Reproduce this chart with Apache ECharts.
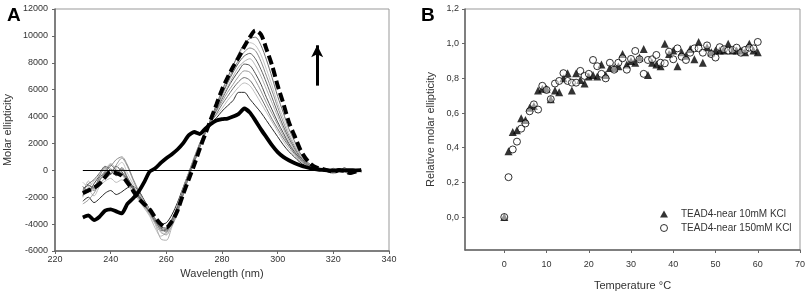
<!DOCTYPE html>
<html>
<head>
<meta charset="utf-8">
<script src="https://cdn.jsdelivr.net/npm/echarts@6/dist/echarts.min.js"></script>
<style>
  html, body { margin: 0; padding: 0; background: #fff; }
  #main { width: 809px; height: 296px; }
</style>
</head>
<body>
<div id="main"></div>
<script>
// ---- panel A : CD spectra (wavelength, nm) ----
var wavelength = [230,232,234,236,238,240,242,244,246,248,250,252,254,256,258,260,262,264,266,268,270,
  272,274,276,278,280,282,284,286,288,290,292,294,296,298,300,302,304,306,308,310,312,314,316,318,320,322,324,326,328,330];

// first scan (thick solid)
var specStart = [-3500,-3350,-3700,-3450,-3000,-2900,-3050,-3200,-2500,-2100,-1600,-900,-100,150,550,900,1200,1550,2000,2600,2850,
  2700,3100,3450,3700,3800,3850,4000,4200,4600,4300,3700,3050,2450,1850,1350,1000,750,550,380,250,150,80,30,0,-20,10,-10,20,0,10];
// last scan (thick dashed)
var specEnd = [-1700,-1500,-1300,-1000,-500,-100,-200,-400,-900,-1500,-2100,-2500,-2900,-3500,-4000,-4250,-3800,-3000,-1800,-700,400,
  1600,2700,3800,4900,6000,6900,7700,8400,9200,9900,10400,10100,9000,7800,6300,5000,3600,2600,1600,900,450,200,100,0,-100,0,-50,-200,-100,0];
// intermediate scans (thin)
var spec1 = [-2300,-2000,-2400,-2100,-1700,-1500,-1800,-1600,-1300,-1200,-1500,-2200,-2900,-3600,-4000,-3900,-3300,-2400,-1300,-200,900,
  1900,2800,3500,3900,4400,4800,5200,5800,5800,5300,4800,4300,3700,3100,2500,1900,1400,1000,600,350,180,100,50,-50,20,0,80,-40,0,20];
var spec2 = [-1800,-1500,-1900,-1200,-800,-600,-900,-700,-1100,-1600,-2200,-2800,-3400,-4300,-4900,-4600,-3700,-2600,-1400,-200,1000,
  2000,2900,3600,4100,4600,5200,5700,6200,6500,6300,5700,5000,4300,3600,2900,2200,1600,1150,700,420,220,120,40,-80,-150,50,-100,-250,-100,0];
var spec3 = [-1500,-1100,-1400,-700,-300,100,-200,200,-500,-1300,-2000,-2600,-3200,-3900,-4500,-4400,-3600,-2700,-1500,-300,900,
  2000,2900,3600,4200,4900,5500,6100,6600,6900,6700,6100,5400,4600,3800,3100,2400,1800,1250,800,450,250,150,80,0,100,-50,150,-100,-50,0];
var spec4 = [-2500,-2200,-1700,-1000,-600,-300,400,900,300,-700,-1600,-2400,-3000,-3800,-4600,-4800,-4000,-3000,-1700,-400,800,
  1900,2900,3700,4400,5100,5800,6400,7000,7400,7300,6700,5900,5000,4200,3400,2600,1900,1350,850,500,280,150,60,-30,-200,-100,50,-300,-150,0];
var spec5 = [-1200,-1600,-1000,-400,200,-300,300,-100,-700,-1400,-1900,-2500,-3100,-3700,-4200,-4300,-3700,-2800,-1600,-400,700,
  1800,2800,3700,4500,5300,6100,6800,7400,7900,7800,7200,6400,5400,4500,3600,2800,2000,1400,900,520,300,160,80,0,-50,120,0,-150,-50,0];
var spec6 = [-2000,-800,-1200,-600,0,500,100,-300,-900,-1600,-2100,-2700,-3300,-4000,-5100,-5200,-4200,-3200,-1900,-500,700,
  1800,2800,3700,4600,5400,6200,7000,7700,8100,8300,7800,7000,6000,5000,4000,3100,2200,1500,950,550,300,170,80,-100,-250,-50,100,-200,-80,0];
var spec7 = [-1400,-1000,-700,-200,300,0,-400,100,-600,-1200,-1800,-2400,-3000,-3800,-4400,-4500,-3900,-2900,-1700,-400,700,
  1800,2800,3800,4700,5600,6500,7300,8000,8500,8700,8300,7500,6500,5400,4300,3300,2400,1650,1000,600,320,180,90,20,150,-50,200,-100,-50,0];
var spec8 = [-1900,-1300,-1500,-800,-100,300,800,1000,400,-600,-1500,-2300,-2900,-3600,-4300,-4600,-4100,-3100,-1800,-500,600,
  1700,2800,3800,4800,5700,6600,7500,8200,8800,9100,8900,8100,7000,5900,4700,3600,2600,1800,1100,650,350,200,100,-50,-150,50,-100,-300,-100,0];
var spec9 = [-900,-1200,-800,-300,100,-200,200,600,-200,-1000,-1700,-2300,-3000,-3800,-4600,-4700,-4000,-3000,-1700,-500,600,
  1700,2800,3800,4900,5900,6900,7800,8600,9200,9500,9300,8600,7500,6300,5000,3900,2800,1950,1200,700,380,200,100,0,-100,0,-80,-200,-80,0];
var spec10 = [-1600,-1100,-1300,-500,-200,400,0,-200,-800,-1400,-2000,-2600,-3100,-3800,-4300,-4400,-3900,-3000,-1800,-500,600,
  1700,2800,3800,4900,5900,6900,7800,8700,9400,9800,9900,9300,8200,6900,5500,4300,3100,2200,1300,750,400,200,100,0,-50,50,-50,-200,-100,0];
var thinSpecs = [spec1, spec2, spec3, spec4, spec5, spec6, spec7, spec8, spec9, spec10];
var thinColors = ['#2a2a2a','#bdbdbd','#707070','#9a9a9a','#4d4d4d','#b0b0b0','#616161','#8a8a8a','#c4c4c4','#6e6e6e'];

// arrow (direction of change)
var arrowFrom = [314.2, 6300];
var arrowTo = [314.2, 9300];

// ---- panel B : relative molar ellipticity vs temperature ----
var temperature = [0,1,2,3,4,5,6,7,8,9,10,11,12,13,14,15,16,17,18,19,20,21,22,23,24,25,26,27,28,29,30,
  31,32,33,34,35,36,37,38,39,40,41,42,43,44,45,46,47,48,49,50,51,52,53,54,55,56,57,58,59,60];
var rel10mM = [0.0,0.38,0.49,0.50,0.57,0.56,0.63,0.64,0.73,0.74,0.74,0.68,0.73,0.72,0.80,0.83,0.73,0.83,0.79,0.77,0.81,
  0.82,0.81,0.88,0.82,0.86,0.86,0.87,0.94,0.88,0.90,0.89,0.92,0.97,0.82,0.89,0.88,0.87,1.00,0.94,0.96,
  0.87,0.95,0.93,0.97,0.91,1.01,0.89,0.98,0.95,0.96,0.96,0.96,1.00,0.96,0.96,0.96,0.95,1.00,0.96,0.95];
var rel150mM = [0.0,0.23,0.39,0.435,0.51,0.54,0.61,0.65,0.62,0.757,0.733,0.68,0.77,0.785,0.83,0.785,0.775,0.775,0.843,0.814,0.826,
  0.906,0.87,0.826,0.80,0.89,0.85,0.89,0.916,0.85,0.912,0.958,0.91,0.826,0.906,0.91,0.935,0.89,0.887,0.954,0.91,
  0.973,0.925,0.906,0.948,0.973,0.973,0.948,0.99,0.94,0.92,0.98,0.968,0.96,0.964,0.977,0.948,0.964,0.977,0.973,1.01];
var tempTicks = [0,10,20,30,40,50,60,70];
var relTicks = [0,0.2,0.4,0.6,0.8,1.0,1.2];

function pairs(xs, ys) {
  var out = [];
  for (var i = 0; i < xs.length; i++) out.push([xs[i], ys[i]]);
  return out;
}

var FONT = 'Liberation Sans, Arial, sans-serif';
var chart = echarts.init(document.getElementById('main'), null, { renderer: 'canvas' });

var series = [];
thinSpecs.forEach(function (s, i) {
  series.push({
    type: 'line', xAxisIndex: 0, yAxisIndex: 0,
    data: pairs(wavelength, s), showSymbol: false, smooth: 0.3,
    lineStyle: { color: thinColors[i], width: 1 }, silent: true
  });
});
series.push({
  type: 'line', xAxisIndex: 0, yAxisIndex: 0,
  data: pairs(wavelength, specStart), showSymbol: false, smooth: 0.2,
  lineStyle: { color: '#000', width: 3.8 },
  markLine: {
    silent: true, symbol: ['none', 'none'], label: { show: false },
    lineStyle: { color: '#000', width: 1, type: 'solid' },
    data: [[{ coord: [wavelength[0], 0] }, { coord: [wavelength[wavelength.length - 1], 0] }]]
  }
});
series.push({
  type: 'line', xAxisIndex: 0, yAxisIndex: 0,
  data: pairs(wavelength, specEnd), showSymbol: false, smooth: 0.3,
  lineStyle: { color: '#000', width: 4, type: [9, 4] },
  markLine: {
    silent: true, symbol: ['none', 'arrow'], symbolSize: [9, 12], label: { show: false },
    lineStyle: { color: '#000', width: 3, type: 'solid' },
    data: [[{ coord: arrowFrom }, { coord: arrowTo }]]
  }
});
series.push({
  name: 'TEAD4-near 10mM KCl', type: 'scatter', xAxisIndex: 1, yAxisIndex: 1,
  data: pairs(temperature, rel10mM), symbol: 'triangle', symbolSize: 8,
  itemStyle: { color: '#000' }
});
series.push({
  name: 'TEAD4-near 150mM KCl', type: 'scatter', xAxisIndex: 1, yAxisIndex: 1,
  data: pairs(temperature, rel150mM), symbol: 'circle', symbolSize: 7,
  itemStyle: { color: 'rgba(255,255,255,0.6)', borderColor: '#000', borderWidth: 1 }
});

var axisCommon = {
  axisLine: { show: true, onZero: false, lineStyle: { color: '#666', width: 1.5 } },
  axisTick: { show: true, inside: false, length: 3, lineStyle: { color: '#666' } },
  splitLine: { show: false },
  nameTextStyle: { fontFamily: FONT, fontSize: 11, color: '#333' },
  axisLabel: { fontFamily: FONT, fontSize: 9, color: '#333' }
};

var option = {
  animation: false,
  backgroundColor: '#fff',
  textStyle: { fontFamily: FONT },
  title: [
    { text: 'A', left: 2, top: 1, textStyle: { fontFamily: FONT, fontSize: 19, fontWeight: 'bold', color: '#000' } },
    { text: 'B', left: 416, top: 1, textStyle: { fontFamily: FONT, fontSize: 19, fontWeight: 'bold', color: '#000' } }
  ],
  legend: {
    data: [
      { name: 'TEAD4-near 10mM KCl' },
      { name: 'TEAD4-near 150mM KCl', itemStyle: { color: '#fff', borderColor: '#000', borderWidth: 1 } }
    ],
    orient: 'vertical', left: 655, top: 204, itemGap: 4,
    itemWidth: 8, itemHeight: 7,
    textStyle: { fontFamily: FONT, fontSize: 10, color: '#333', padding: [0, 0, 0, 8] }
  },
  grid: [
    { left: 55, top: 9, width: 334, height: 242, show: true, borderColor: '#999', borderWidth: 1, containLabel: false },
    { left: 465, top: 9, width: 335, height: 241, show: true, borderColor: '#999', borderWidth: 1, containLabel: false }
  ],
  xAxis: [
    Object.assign({}, axisCommon, {
      gridIndex: 0, type: 'value', min: 220, max: 340, interval: 20,
      name: 'Wavelength (nm)', nameLocation: 'middle', nameGap: 17,
      axisLabel: Object.assign({}, axisCommon.axisLabel, { margin: 4 })
    }),
    Object.assign({}, axisCommon, {
      gridIndex: 1, type: 'value', min: -9.3, max: 70,
      name: 'Temperature °C', nameLocation: 'middle', nameGap: 30,
      axisTick: Object.assign({}, axisCommon.axisTick, { customValues: tempTicks }),
      axisLabel: Object.assign({}, axisCommon.axisLabel, { margin: 10, customValues: tempTicks })
    })
  ],
  yAxis: [
    Object.assign({}, axisCommon, {
      gridIndex: 0, type: 'value', min: -6000, max: 12000, interval: 2000,
      name: 'Molar ellipticity', nameLocation: 'middle', nameGap: 42,
      axisLabel: Object.assign({}, axisCommon.axisLabel, {
        margin: 7, formatter: function (v) { return String(v); }
      })
    }),
    Object.assign({}, axisCommon, {
      gridIndex: 1, type: 'value', min: -0.19, max: 1.2,
      name: 'Relative molar ellipticity', nameLocation: 'middle', nameGap: 29,
      axisTick: Object.assign({}, axisCommon.axisTick, { customValues: relTicks }),
      axisLabel: Object.assign({}, axisCommon.axisLabel, {
        margin: 6, customValues: relTicks,
        formatter: function (v) { return v.toFixed(1).replace('.', ','); }
      })
    })
  ],
  series: series
};

chart.setOption(option);
</script>
</body>
</html>
